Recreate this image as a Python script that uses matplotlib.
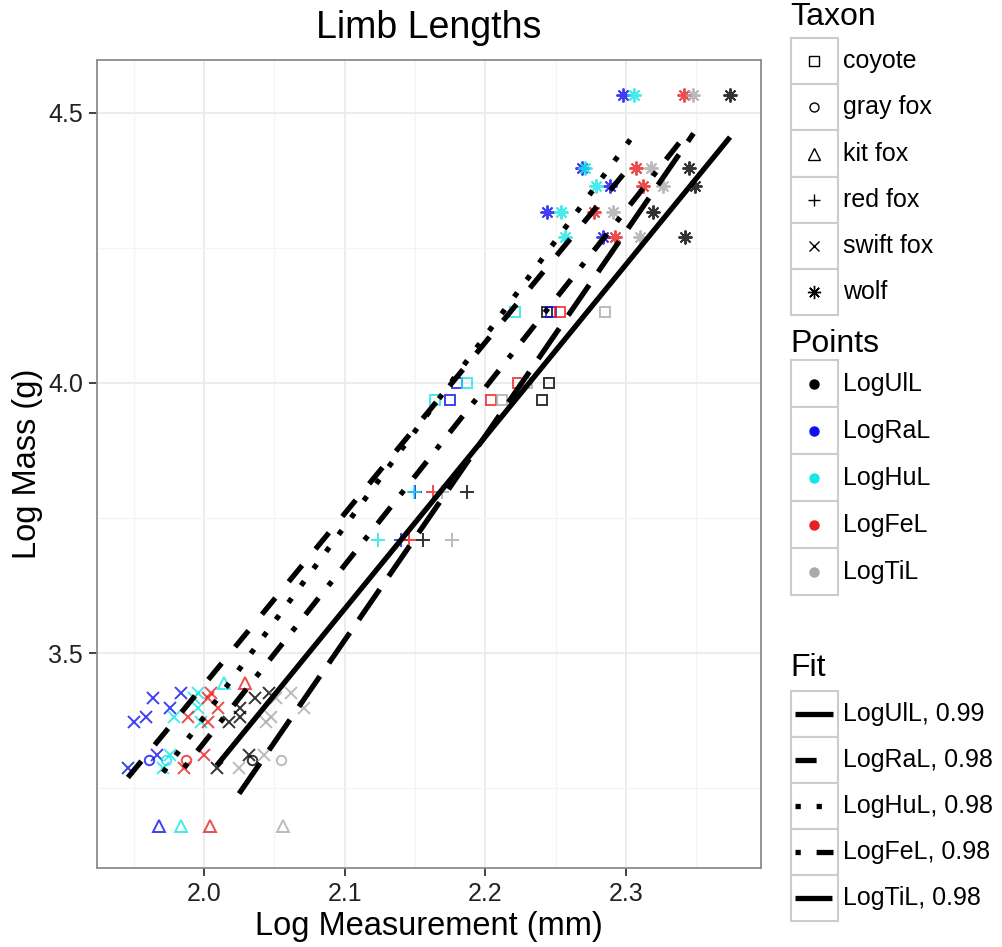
import numpy as np
import matplotlib
matplotlib.use('Agg')
import matplotlib.pyplot as plt
from matplotlib.patches import Rectangle

plt.rcParams['font.family'] = ['Liberation Sans', 'DejaVu Sans']

# ---------------- data ----------------
taxa = ['coyote', 'gray fox', 'kit fox', 'red fox', 'swift fox', 'wolf']
bones = ['LogUlL', 'LogRaL', 'LogHuL', 'LogFeL', 'LogTiL']
fit_labels = ['LogUlL, 0.99', 'LogRaL, 0.98', 'LogHuL, 0.98', 'LogFeL, 0.98', 'LogTiL, 0.98']

specimen_taxon = ['wolf', 'wolf', 'wolf', 'wolf', 'wolf',
                  'coyote', 'coyote', 'coyote',
                  'red fox', 'red fox',
                  'swift fox', 'swift fox', 'swift fox', 'swift fox', 'swift fox', 'swift fox', 'swift fox',
                  'gray fox',
                  'kit fox', 'kit fox']
log_mass = [4.533, 4.398, 4.365, 4.317, 4.270,
            4.131, 4.000, 3.969,
            3.798, 3.709,
            3.426, 3.417, 3.398, 3.381, 3.372, 3.311, 3.287,
            3.302,
            3.444, 3.180]
log_ull = [2.374, 2.345, 2.349, 2.319, 2.342,
           2.244, 2.245, 2.240,
           2.187, 2.156,
           2.046, 2.036, 2.026, 2.026, 2.018, 2.032, 2.009,
           2.034,
           np.nan, np.nan]
log_ral = [2.298, 2.269, 2.289, 2.244, 2.284,
           2.247, 2.180, 2.175,
           2.150, 2.140,
           1.984, 1.964, 1.976, 1.959, 1.950, 1.967, 1.946,
           1.961,
           np.nan, 1.968]
log_hul = [2.306, 2.271, 2.279, 2.254, 2.257,
           2.221, 2.187, 2.164,
           2.149, 2.124,
           1.996, 1.993, 1.996, 1.979, 1.998, 1.976, 1.971,
           1.973,
           2.014, 1.984]
log_fel = [2.341, 2.307, 2.312, 2.277, 2.292,
           2.253, 2.223, 2.204,
           2.163, 2.146,
           2.005, 2.003, 2.010, 1.989, 2.003, 2.000, 1.986,
           1.987,
           2.029, 2.004]
log_til = [2.348, 2.318, 2.326, 2.291, 2.310,
           2.285, 2.230, 2.212,
           2.169, 2.176,
           2.062, 2.051, 2.071, 2.048, 2.044, 2.043, 2.025,
           2.055,
           np.nan, 2.056]

# ---------------- styles ----------------
bone_colors = ['#000000', '#1010F0', '#18E6E6', '#E82020', '#AAAAAA']
taxon_markers = {'coyote': 's', 'gray fox': 'o', 'kit fox': '^',
                 'red fox': '+', 'swift fox': 'x', 'wolf': (8, 2, 0)}
taxon_ms = {'coyote': 7.0, 'gray fox': 6.8, 'kit fox': 9.0,
            'red fox': 9.5, 'swift fox': 8.0, 'wolf': 10.0}
fit_styles = ['-', (0, (4, 4)), (0, (1, 3)), (0, (1, 3, 4, 3)), (0, (7, 3))]
LW = 3.8

W, H = 1002, 947
fig = plt.figure(figsize=(W / 100, H / 100), dpi=100)
px = lambda x0, y0, x1, y1: [x0 / W, 1 - y1 / H, (x1 - x0) / W, (y1 - y0) / H]
ax = fig.add_axes(px(97, 60, 761, 868))

mass = np.array(log_mass)
tax = np.array(specimen_taxon)
measures = [np.array(a, dtype=float) for a in (log_ull, log_ral, log_hul, log_fel, log_til)]

# points
for bi, meas in enumerate(measures):
    for t in taxa:
        sel = (tax == t) & ~np.isnan(meas)
        ax.plot(meas[sel], mass[sel], ls='none', marker=taxon_markers[t], ms=taxon_ms[t],
                mfc='none', mec=bone_colors[bi], mew=1.4, alpha=0.8, zorder=3)

# fits
for bi, meas in enumerate(measures):
    ok = ~np.isnan(meas)
    coef = np.polyfit(meas[ok], mass[ok], 1)
    xs = np.array([meas[ok].min(), meas[ok].max()])
    ax.plot(xs, np.polyval(coef, xs), color='black', lw=LW, ls=fit_styles[bi],
            dash_capstyle='butt', solid_capstyle='butt', zorder=4)

ax.set_xlim(1.924, 2.396)
ax.set_ylim(3.102, 4.598)
ax.set_xticks([2.0, 2.1, 2.2, 2.3])
ax.set_xticklabels(['2.0', '2.1', '2.2', '2.3'])
ax.set_yticks([3.5, 4.0, 4.5])
ax.set_yticklabels(['3.5', '4.0', '4.5'])
ax.set_xticks([1.95, 2.05, 2.15, 2.25, 2.35], minor=True)
ax.set_yticks([3.25, 3.75, 4.25], minor=True)
ax.grid(which='major', color='#EBEBEB', lw=1.3)
ax.grid(which='minor', color='#F4F4F4', lw=0.9)
ax.set_axisbelow(True)
ax.tick_params(which='major', length=6, width=1.3, color='#333333',
               labelsize=18, labelcolor='#222222', pad=4)
ax.tick_params(which='minor', length=0)
for s in ax.spines.values():
    s.set_color('#8C8C8C')
    s.set_linewidth(1.3)

fig.text(429 / W, 1 - 28 / H, 'Limb Lengths', ha='center', va='center', fontsize=27)
fig.text(429 / W, 1 - 926 / H, 'Log Measurement (mm)', ha='center', va='center', fontsize=23.5)
fig.text(28 / W, 1 - 464 / H, 'Log Mass (g)', ha='center', va='center', rotation=90, fontsize=23.5)

# ---------------- legends (manual, ggplot-like) ----------------
lg = fig.add_axes([0, 0, 1, 1], zorder=5)
lg.set_xlim(0, W)
lg.set_ylim(H, 0)
lg.axis('off')
lg.patch.set_alpha(0)

KX0, KX1 = 791, 838
LBLX = 843


def key_boxes(top, h, n):
    for i in range(n):
        lg.add_patch(Rectangle((KX0, top + i * h), KX1 - KX0, h, fc='white',
                               ec='#CCCCCC', lw=1.5))


# Taxon
lg.text(790, 17, 'Taxon', fontsize=23, va='center', ha='left')
tt, th = 38, 46.2
key_boxes(tt, th, len(taxa))
for i, t in enumerate(taxa):
    yc = tt + (i + 0.5) * th
    lg.plot([(KX0 + KX1) / 2], [yc], ls='none', marker=taxon_markers[t],
            ms=taxon_ms[t] * 0.95, mfc='none', mec='black', mew=1.0)
    lg.text(LBLX, yc, t, fontsize=18, va='center', ha='left')

# Points
lg.text(790, 344, 'Points', fontsize=23, va='center', ha='left')
pt, ph = 360, 47
key_boxes(pt, ph, len(bones))
for i, b in enumerate(bones):
    yc = pt + (i + 0.5) * ph
    lg.plot([(KX0 + KX1) / 2], [yc], ls='none', marker='o', ms=6.5,
            mfc=bone_colors[i], mec=bone_colors[i])
    lg.text(LBLX, yc, b, fontsize=18, va='center', ha='left')

# Fit
lg.text(790, 668, 'Fit', fontsize=23, va='center', ha='left')
ft, fh = 691, 46
key_boxes(ft, fh, len(bones))
for i, lab in enumerate(fit_labels):
    yc = ft + (i + 0.5) * fh
    lg.plot([795, 833], [yc, yc], color='black', lw=LW, ls=fit_styles[i],
            dash_capstyle='butt', solid_capstyle='butt')
    lg.text(LBLX, yc, lab, fontsize=18, va='center', ha='left')

fig.savefig('out.png', dpi=100)
